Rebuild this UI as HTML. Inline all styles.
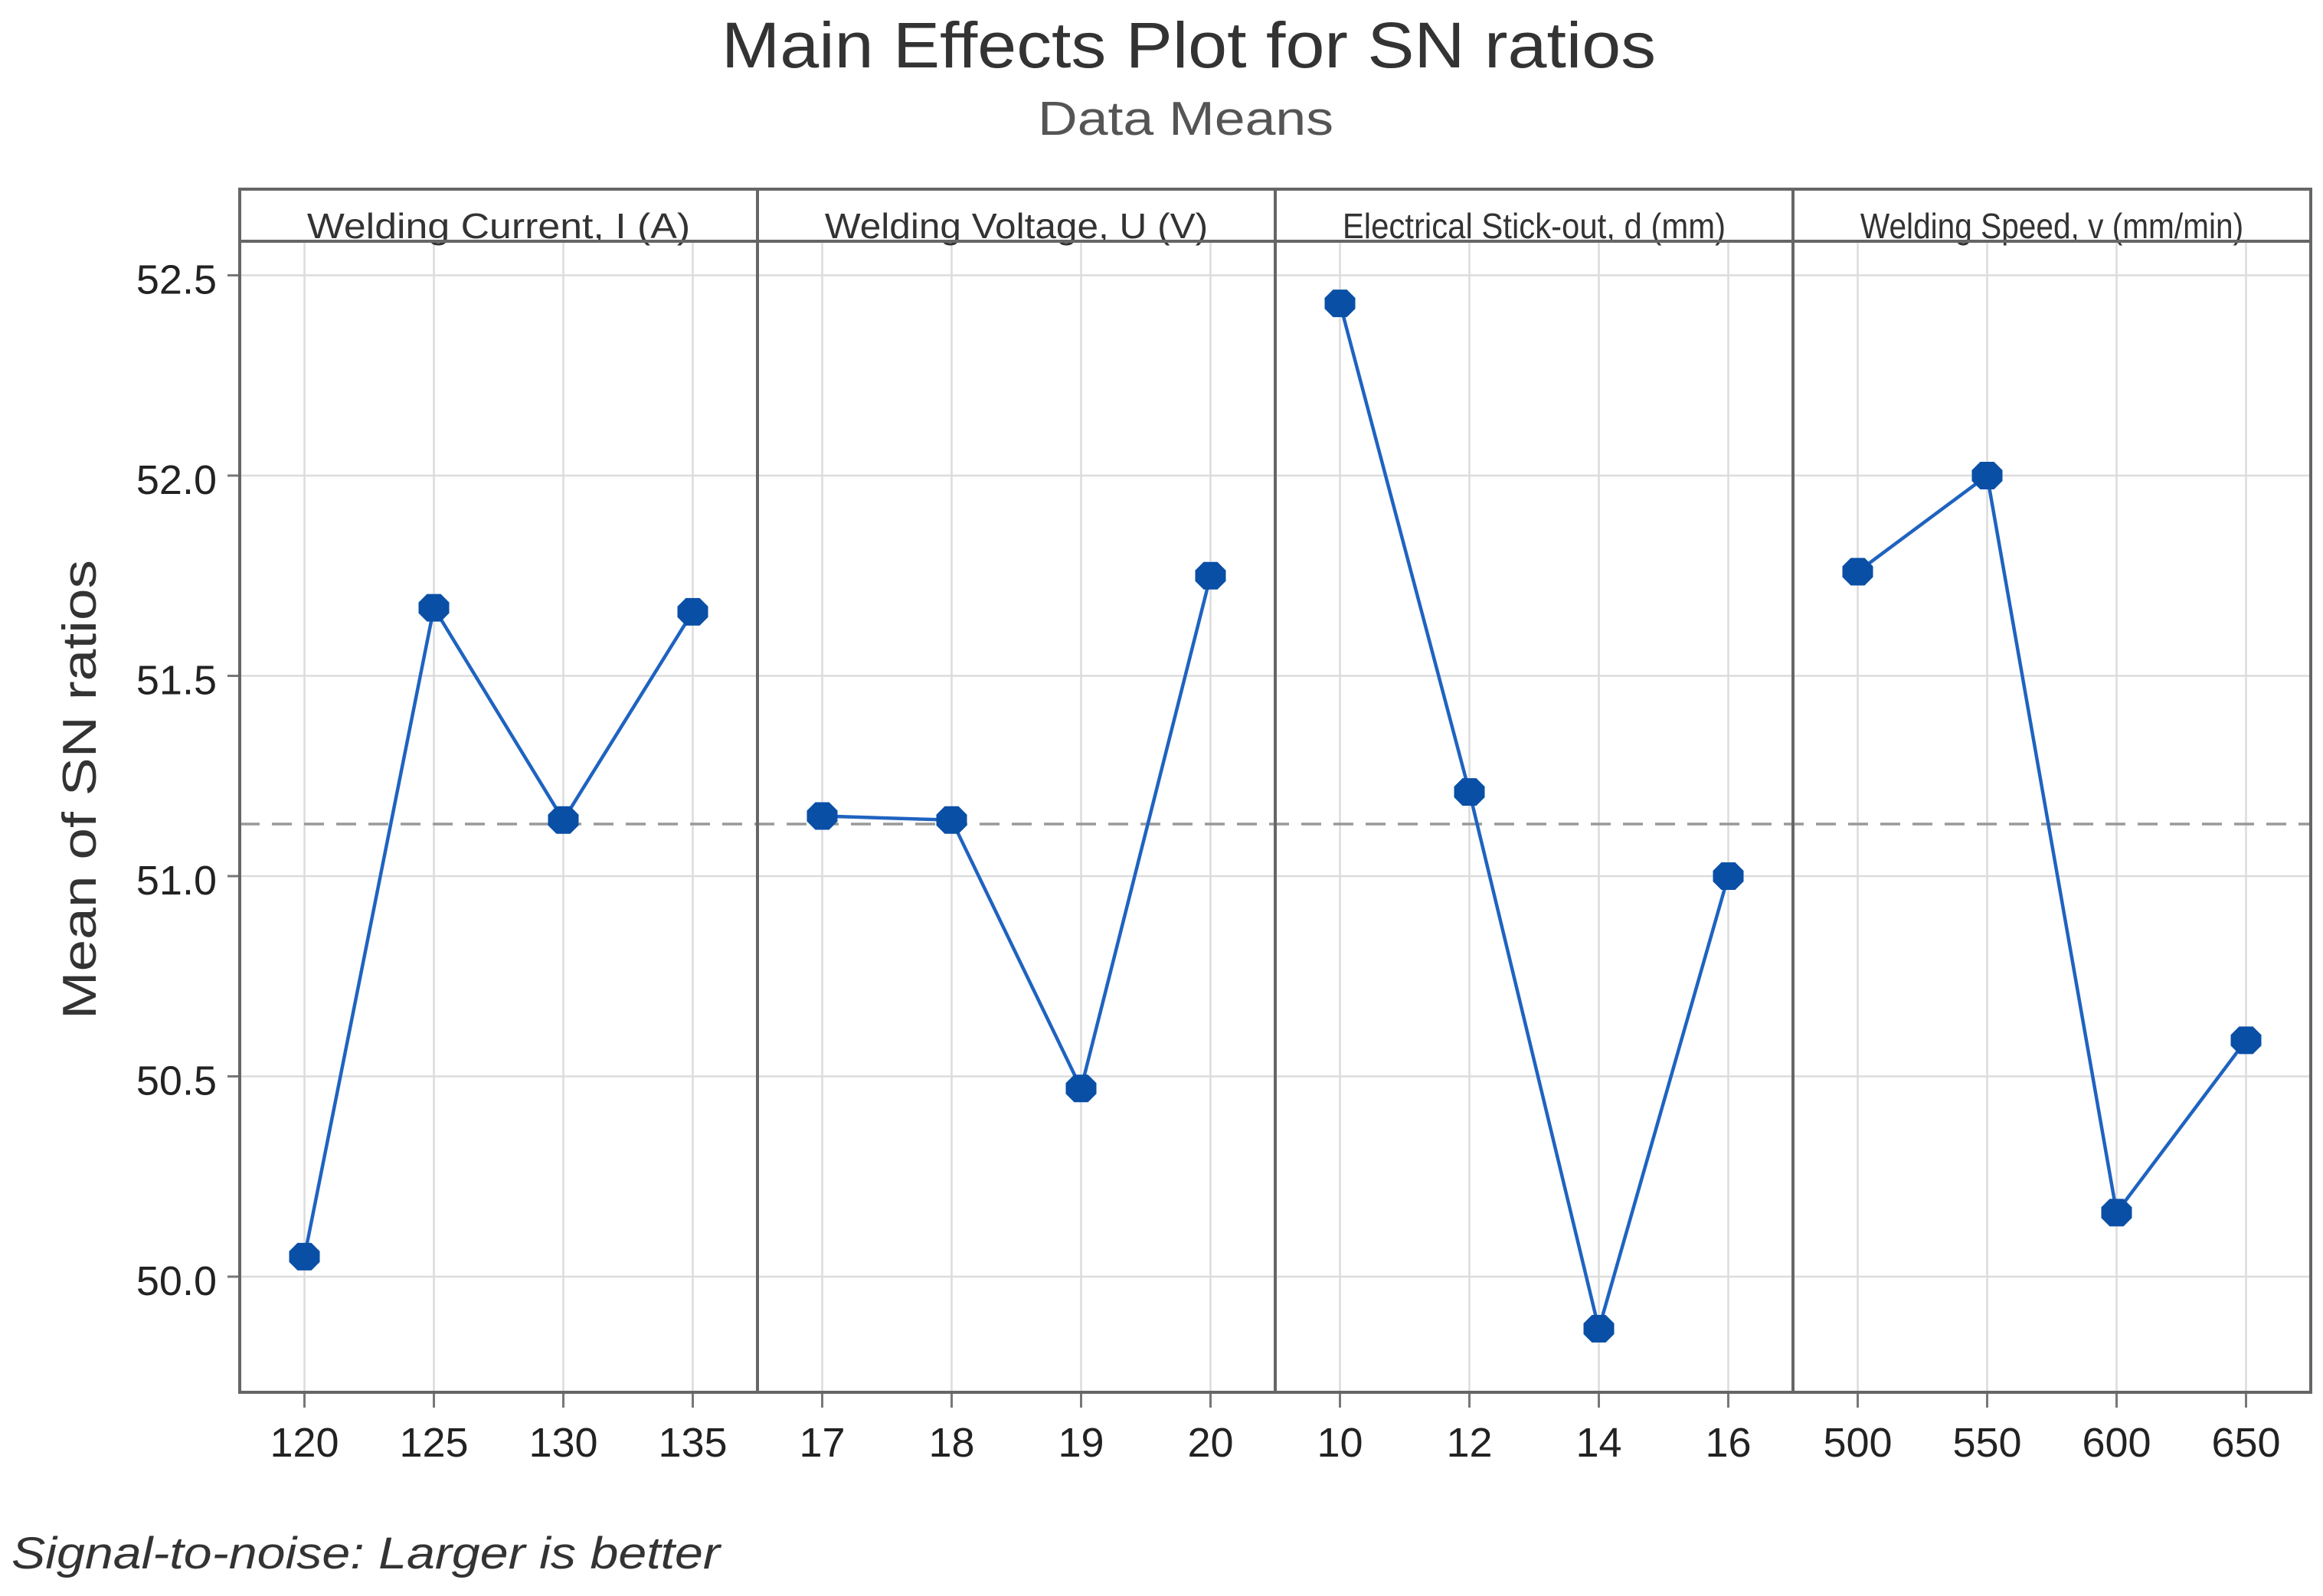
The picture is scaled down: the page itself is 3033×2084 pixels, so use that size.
<!DOCTYPE html>
<html><head><meta charset="utf-8"><style>
html,body{margin:0;padding:0;background:#fff;}
svg{display:block;}
text{font-family:"Liberation Sans",sans-serif;}
</style></head><body>
<svg id="chart" xmlns="http://www.w3.org/2000/svg" width="3033" height="2084" viewBox="0 0 3033 2084">
<rect width="3033" height="2084" fill="#fff"/>
<text x="1552" y="88" text-anchor="middle" font-size="84" fill="#333" textLength="1220" lengthAdjust="spacingAndGlyphs">Main Effects Plot for SN ratios</text>
<text x="1548" y="176" text-anchor="middle" font-size="62" fill="#555" textLength="386" lengthAdjust="spacingAndGlyphs">Data Means</text>
<text transform="translate(125,1031) rotate(-90)" text-anchor="middle" font-size="62" fill="#333" textLength="600" lengthAdjust="spacingAndGlyphs">Mean of SN ratios</text>
<text x="15" y="2048" font-size="58" font-style="italic" fill="#333" textLength="925" lengthAdjust="spacingAndGlyphs">Signal-to-noise: Larger is better</text>
<g id="plot"></g>
</svg>
<script>
const panelTitles = ["Welding Current, I (A)", "Welding Voltage, U (V)", "Electrical Stick-out, d (mm)", "Welding Speed, v (mm/min)"];
const levelLabels = [["120","125","130","135"],["17","18","19","20"],["10","12","14","16"],["500","550","600","650"]];
const currentSN = [50.05, 51.67, 51.14, 51.66];
const voltageSN = [51.15, 51.14, 50.47, 51.75];
const stickoutSN = [52.43, 51.21, 49.87, 51.00];
const speedSN = [51.76, 52.00, 50.16, 50.59];
const grandMean = 51.13;
const yTicks = [50.0, 50.5, 51.0, 51.5, 52.0, 52.5];

const series = [currentSN, voltageSN, stickoutSN, speedSN];
const NS = "http://www.w3.org/2000/svg";
const g = document.getElementById("plot");
const L = 313, R = 3017, TOP = 247, STRIP = 315, BOT = 1818;
const PW = (R - L) / 4;
function y(v){ return 1667 - (v - 50) * 523; }
function x(p, i){ return L + p * PW + PW / 8 + i * PW / 4; }
function mk(tag, attrs, parent){ const e = document.createElementNS(NS, tag); for (const k in attrs) e.setAttribute(k, attrs[k]); (parent || g).appendChild(e); return e; }

// y grid + tick labels
yTicks.forEach(t => {
  const gl = mk("line", {x1:L, x2:R, y1:y(t), y2:y(t), stroke:"#dcdcdc", "stroke-width":2.5});
  
  
  const tk = mk("line", {x1:L-16, x2:L, y1:y(t), y2:y(t), stroke:"#777", "stroke-width":3});
  
  
  const tl = mk("text", {x:283, y:y(t)+24, "text-anchor":"end", "font-size":54, fill:"#222"});
  tl.textContent = t.toFixed(1);
  
  
});

// panels
for (let p = 0; p < 4; p++) {
  const px = L + p * PW;
  for (let i = 0; i < 4; i++) {
    const vg = mk("line", {x1:x(p,i), x2:x(p,i), y1:STRIP, y2:BOT, stroke:"#dcdcdc", "stroke-width":2.5});
    
    
    const tk = mk("line", {x1:x(p,i), x2:x(p,i), y1:BOT, y2:BOT+20, stroke:"#777", "stroke-width":3});
    
    
    const tl = mk("text", {x:x(p,i), y:1902, "text-anchor":"middle", "font-size":54, fill:"#222"});
    tl.textContent = levelLabels[p][i];
    
    
  }
  const st = mk("text", {x:px + PW/2, y:STRIP-4, "text-anchor":"middle", "font-size":46, fill:"#333", textLength: PW*0.74, lengthAdjust:"spacingAndGlyphs"});
  st.textContent = panelTitles[p];
  
  
}

// mean line
const ml = mk("line", {x1:L, x2:R, y1:y(grandMean), y2:y(grandMean), stroke:"#999", "stroke-width":3.5, "stroke-dasharray":"26 16"});



// frames
const fr = mk("rect", {x:L, y:TOP, width:R-L, height:BOT-TOP, fill:"none", stroke:"#666", "stroke-width":4});


const sl = mk("line", {x1:L, x2:R, y1:STRIP, y2:STRIP, stroke:"#666", "stroke-width":4});


for (let p = 1; p < 4; p++) {
  const d = mk("line", {x1:L+p*PW, x2:L+p*PW, y1:TOP, y2:BOT, stroke:"#666", "stroke-width":4});
  
  
}

// series
series.forEach((vals, p) => {
  const pts = vals.map((v, i) => x(p,i) + "," + y(v)).join(" ");
  const pl = mk("polyline", {points:pts, fill:"none", stroke:"#1f63c0", "stroke-width":4.5});
  
  
  vals.forEach((v, i) => {
    const cx = x(p,i), cy = y(v), r = 20, a = 9;
    const poly = [[cx-r,cy-a+2],[cx-a,cy-r+2],[cx+a,cy-r+2],[cx+r,cy-a+2],[cx+r,cy+a-2],[cx+a,cy+r-2],[cx-a,cy+r-2],[cx-r,cy+a-2]].map(q=>q.join(",")).join(" ");
    const m = mk("polygon", {points:poly, fill:"#0a4fa6"});
    
    
  });
});
</script>
</body></html>
